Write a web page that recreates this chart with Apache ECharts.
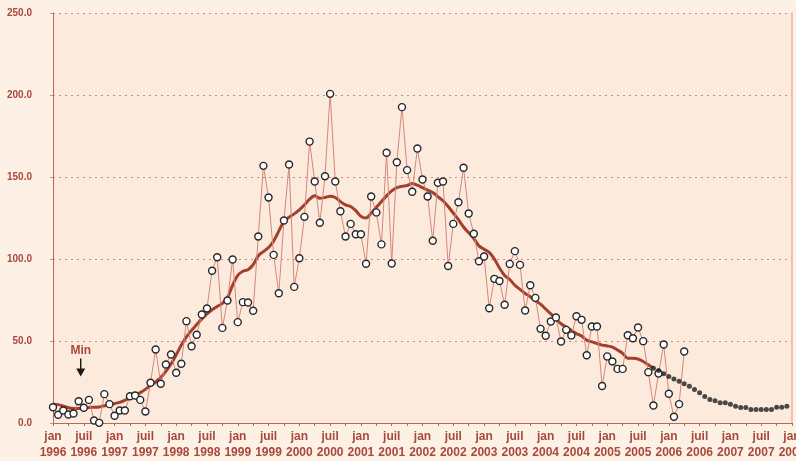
<!DOCTYPE html>
<html>
<head>
<meta charset="utf-8">
<script src="https://cdn.jsdelivr.net/npm/echarts@6/dist/echarts.min.js"></script>
<style>
  html, body { margin: 0; padding: 0; background: #fdf1e6; overflow: hidden; }
  #chart { width: 796px; height: 461px; }
</style>
</head>
<body>
<div id="chart"></div>
<script>
// month index 0 = jan 1996
var startYear = 1996;
var monthNames = ['jan', 'juil'];

// monthly values, jan 1996 .. apr 2006
var rawValues = [
  9.6, 5.0, 7.6, 5.2, 5.8, 13.3, 9.3, 14.1, 1.5, 0.1, 17.6, 11.5,
  4.4, 7.6, 7.6, 16.3, 16.8, 14.1, 7.0, 24.5, 44.8, 23.9, 35.7, 41.8,
  30.6, 36.1, 62.1, 46.8, 53.8, 66.2, 69.8, 92.8, 101.1, 58.0, 74.7, 99.7,
  61.5, 73.7, 73.5, 68.4, 113.7, 156.8, 137.5, 102.5, 79.1, 123.5, 157.6, 83.0,
  100.5, 125.7, 171.6, 147.3, 122.1, 150.5, 200.7, 147.3, 129.1, 113.7, 121.4, 115.1,
  115.1, 97.1, 138.1, 128.4, 108.9, 164.8, 97.3, 159.0, 192.6, 154.2, 141.0, 167.4,
  148.5, 138.1, 111.1, 146.5, 147.3, 95.7, 121.4, 134.6, 155.6, 127.7, 115.4, 98.6,
  101.5, 70.0, 87.9, 86.6, 72.1, 97.0, 104.8, 96.4, 68.6, 84.0, 76.3, 57.4,
  53.2, 61.9, 64.3, 49.7, 56.8, 53.4, 65.1, 62.9, 41.3, 58.8, 58.8, 22.6,
  40.6, 37.5, 33.0, 33.0, 53.5, 51.7, 58.2, 49.9, 31.0, 10.7, 30.2, 47.9,
  17.8, 3.8, 11.5, 43.6
];

// smoothed trend, jan 1996 .. oct 2005
var trendValues = [
  11.5, 11.2, 10.3, 9.3, 8.8, 8.8, 9.0, 9.4, 9.6, 9.8, 10.5, 11.2,
  11.8, 12.6, 13.8, 15.3, 16.8, 18.5, 20.5, 22.8, 25.0, 27.8, 31.5, 36.0,
  41.5, 47.5, 52.5, 56.5, 60.0, 63.5, 66.5, 69.0, 71.0, 73.0, 76.5, 84.0,
  90.0, 92.5, 93.5, 96.5, 102.0, 104.5, 107.0, 111.0, 117.0, 123.0, 125.5, 127.5,
  130.0, 133.0, 136.5, 138.5, 137.0, 137.5, 138.3, 137.5, 135.0, 133.0, 132.0, 129.5,
  126.0, 125.0, 128.0, 131.5, 135.0, 138.5, 141.5, 143.5, 144.3, 144.8, 146.0, 145.0,
  143.5, 142.0, 140.5, 138.0, 135.5, 132.0, 128.0, 124.0, 119.5, 116.0, 112.5, 108.0,
  106.0, 104.0, 100.0, 94.5, 90.0, 87.5, 84.0, 81.5, 79.0, 77.0, 74.5, 72.5,
  69.5, 66.5, 63.5, 60.5, 58.5, 56.5, 54.5, 53.0, 50.5, 49.5, 48.5, 47.5,
  47.0, 46.3, 44.5, 42.5, 39.5, 39.5, 39.0, 37.5, 35.5, 33.5
];

// projection, starting oct 2005
var forecastStart = 117;
var forecastValues = [
  33.4, 32.0, 30.0, 28.4, 26.9, 25.5, 23.9, 22.4, 20.4, 18.4, 16.2, 14.3,
  13.5, 12.3, 12.3, 11.5, 10.2, 9.5, 9.5, 8.2, 8.2, 8.2, 8.2, 8.2,
  9.6, 9.6, 10.2
];

var minMark = [5.4, 33.8];

var textColor = '#a9483c';
var font = 'Liberation Sans, Arial, sans-serif';
var narrowFont = '"Liberation Sans Narrow", "Arial Narrow", "Liberation Sans", sans-serif';

var myChart = echarts.init(document.getElementById('chart'), null, { width: 796, height: 461 });

myChart.setOption({
  animation: false,
  backgroundColor: '#fdf1e6',
  grid: {
    left: 53,
    right: 4,
    top: 13,
    bottom: 38,
    outerBoundsMode: 'none',
    show: true,
    backgroundColor: '#fcebdc',
    borderWidth: 0
  },
  xAxis: {
    type: 'value',
    min: 0,
    max: 144,
    interval: 3,
    axisLine: { lineStyle: { color: '#b8695b', width: 1 } },
    axisTick: { show: true, length: 3, lineStyle: { color: '#b8695b' } },
    splitLine: { show: false },
    axisLabel: {
      color: textColor,
      fontFamily: narrowFont,
      fontWeight: 'bold',
      fontSize: 12,
      lineHeight: 16,
      margin: 6,
      showMinLabel: true,
      showMaxLabel: true,
      formatter: function (v) {
        if (v % 6 !== 0) return '';
        return monthNames[(v % 12) / 6] + '\n' + (startYear + Math.floor(v / 12));
      }
    }
  },
  yAxis: [
    {
      type: 'value',
      min: 0,
      max: 250,
      interval: 50,
      axisLine: { show: true, lineStyle: { color: '#b8695b', width: 1 } },
      axisTick: { show: true, length: 3, lineStyle: { color: '#d58a7f' } },
      splitLine: { lineStyle: { color: '#d98479', type: [2, 4], width: 1 } },
      axisLabel: {
        color: textColor,
        fontFamily: font,
        fontWeight: 'bold',
        fontSize: 10,
        margin: 21,
        formatter: function (v) { return v.toFixed(1); }
      }
    },
    {
      type: 'value',
      position: 'right',
      min: 0,
      max: 250,
      axisLine: { show: true, lineStyle: { color: '#f0b2a8', width: 1.5 } },
      axisTick: { show: false },
      axisLabel: { show: false },
      splitLine: { show: false }
    }
  ],
  series: [
    {
      name: 'trend',
      type: 'line',
      z: 2,
      smooth: 0.3,
      symbol: 'none',
      lineStyle: { color: '#a53f2d', width: 3 },
      data: trendValues.map(function (v, i) { return [i, v]; })
    },
    {
      name: 'forecast',
      type: 'scatter',
      z: 4,
      symbol: 'circle',
      symbolSize: 5,
      itemStyle: { color: '#1e1e1e' },
      data: forecastValues.map(function (v, i) { return [forecastStart + i, v]; })
    },
    {
      name: 'monthly',
      type: 'line',
      z: 3,
      symbol: 'circle',
      symbolSize: 7,
      lineStyle: { color: '#d4867a', width: 1 },
      itemStyle: { color: '#ffffff', borderColor: '#262626', borderWidth: 1.4 },
      data: rawValues.map(function (v, i) { return [i, v]; }),
      markPoint: {
        silent: true,
        symbol: 'path://M4.2,0 L5.8,0 L5.8,10 L10,10 L5,18 L0,10 L4.2,10 Z',
        symbolSize: [9, 18],
        symbolKeepAspect: false,
        itemStyle: { color: '#1a1a1a', borderWidth: 0 },
        label: {
          show: true,
          position: 'top',
          distance: 2,
          formatter: 'Min',
          color: textColor,
          fontFamily: narrowFont,
          fontWeight: 'bold',
          fontSize: 12
        },
        data: [{ coord: minMark }]
      }
    }
  ]
});
</script>
</body>
</html>
